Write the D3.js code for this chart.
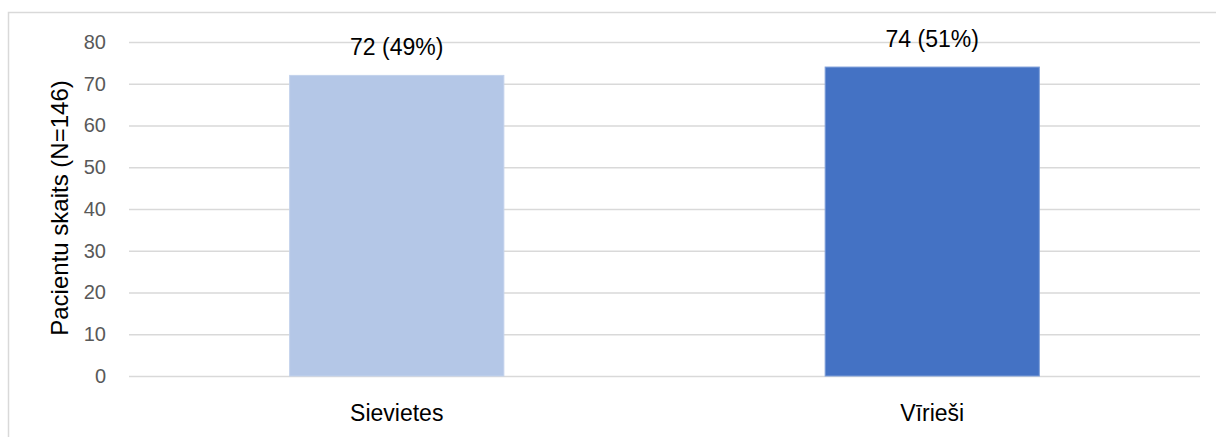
<!DOCTYPE html>
<html>
<head>
<meta charset="utf-8">
<script src="https://cdn.jsdelivr.net/npm/d3@7"></script>
<style>
  body { margin: 0; background: #fff; }
  svg { display: block; font-family: "Liberation Sans", Arial, sans-serif; }
</style>
</head>
<body>
<svg width="1216" height="437"></svg>
<script>
var categories = ["Sievietes", "Vīrieši"];
var counts = [72, 74];
var percents = ["49%", "51%"];
var barColors = ["#B4C7E7", "#4472C4"];
var yTicks = [0, 10, 20, 30, 40, 50, 60, 70, 80];
var yTitle = "Pacientu skaits (N=146)";

function createChart() {
    const svg = d3.select("svg");
    const left = 129, right = 1200, top = 42, bottom = 376;

    // chart frame (runs off the right and bottom of the picture)
    svg.append("rect")
        .attr("x", 8.5).attr("y", 12.5)
        .attr("width", 1230).attr("height", 450)
        .style("fill", "none").style("stroke", "#D9D9D9").style("stroke-width", 1.5);

    const xScale = d3.scaleBand().domain(categories).range([left, right])
          .paddingInner(0.6).paddingOuter(0.3);
    const yScale = d3.scaleLinear().domain([0, 80]).range([bottom, top]);

    const yAxis = d3.axisLeft()
          .scale(yScale)
          .tickValues(yTicks)
          .tickSize(-(right - left))
          .tickPadding(23);
    d3.select("svg").append("g")
        .attr("transform", `translate(${left},0)`)
        .attr("id", "yAxisG")
        .call(yAxis);
    d3.select("#yAxisG .domain").remove();
    d3.selectAll("#yAxisG line").style("stroke", "#D9D9D9").style("stroke-width", 1.5);
    d3.selectAll("#yAxisG text")
        .style("font-size", "20px").style("fill", "#595959")
        .style("font-family", "Liberation Sans, Arial, sans-serif");

    const data = categories.map((c, i) => ({cat: c, n: counts[i], pct: percents[i], color: barColors[i]}));

    svg.selectAll("rect.bar")
        .data(data).enter().append("rect")
        .attr("class", "bar")
        .attr("x", d => xScale(d.cat))
        .attr("width", xScale.bandwidth())
        .attr("y", d => yScale(d.n))
        .attr("height", d => yScale(0) - yScale(d.n))
        .style("fill", d => d.color)
        .style("stroke", (d, i) => i === 1 ? "#7F9FD9" : "#C3D2EC")
        .style("stroke-width", 1);

    svg.selectAll("text.val")
        .data(data).enter().append("text")
        .attr("class", "val")
        .attr("x", d => xScale(d.cat) + xScale.bandwidth() / 2)
        .attr("y", d => yScale(d.n) - 20)
        .attr("text-anchor", "middle")
        .style("font-size", "23px").style("fill", "#000")
        .text(d => `${d.n} (${d.pct})`);

    svg.selectAll("text.cat")
        .data(data).enter().append("text")
        .attr("class", "cat")
        .attr("x", d => xScale(d.cat) + xScale.bandwidth() / 2)
        .attr("y", 421)
        .attr("text-anchor", "middle")
        .style("font-size", "23px").style("fill", "#000")
        .text(d => d.cat);

    svg.append("text")
        .attr("transform", `translate(68,208) rotate(-90)`)
        .attr("text-anchor", "middle")
        .style("font-size", "24px").style("fill", "#000")
        .text(yTitle);
}
createChart();
</script>
</body>
</html>
